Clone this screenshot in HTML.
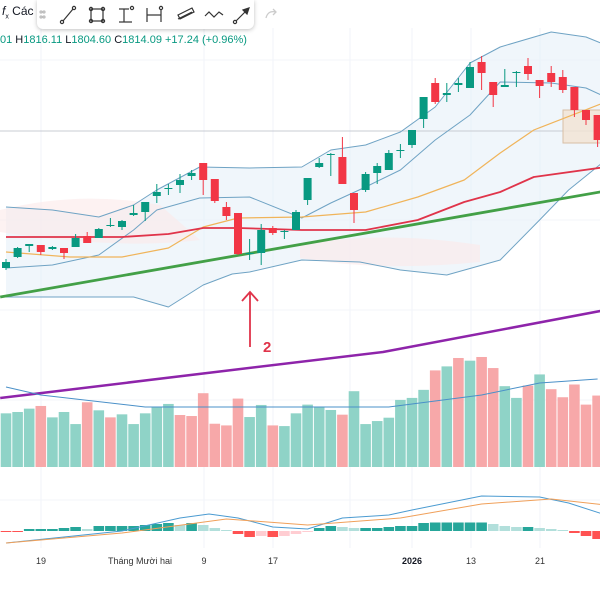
<!DOCTYPE html>
<html><head><meta charset="utf-8"><style>
html,body{margin:0;padding:0;background:#fff;width:600px;height:600px;overflow:hidden;font-family:"Liberation Sans",sans-serif}
#wrap{position:relative;width:600px;height:600px}
svg{position:absolute;left:0;top:0}
.tb{position:absolute;left:37px;top:0;width:217px;height:29px;background:#fff;border-radius:0 0 6px 6px;box-shadow:0 1px 4px rgba(0,0,0,.25)}
.legend{position:absolute;left:0;top:34px;font-size:11px;color:#089981;white-space:nowrap}
.legend b{font-weight:normal;color:#131722}
.fx{position:absolute;left:2px;top:4px;font-size:12px;color:#131722}
.xl{position:absolute;top:556px;font-size:9px;color:#333;transform:translateX(-50%)}
</style></head><body>
<div id="wrap">
<svg id="chart" width="600" height="600"></svg>
<div class="fx"><i>f</i><sub style="font-size:7px">x</sub> Các</div>
<div class="tb">
<svg width="217" height="29">
<g fill="none" stroke="#333" stroke-width="1.2">
<circle cx="4" cy="12" r="1" stroke="#bbb"/><circle cx="7" cy="12" r="1" stroke="#bbb"/><circle cx="4" cy="17" r="1" stroke="#bbb"/><circle cx="7" cy="17" r="1" stroke="#bbb"/>
<g><line x1="26" y1="21" x2="36" y2="9"/><circle cx="25" cy="22" r="1.6"/><circle cx="37" cy="8" r="1.6"/></g>
<g><rect x="54" y="9" width="12" height="12"/><circle cx="54" cy="9" r="1.6"/><circle cx="66" cy="9" r="1.6"/><circle cx="54" cy="21" r="1.6"/><circle cx="66" cy="21" r="1.6"/></g>
<g><line x1="82" y1="9" x2="92" y2="9"/><line x1="82" y1="22" x2="95" y2="22"/><line x1="87" y1="9" x2="87" y2="22"/><circle cx="95" cy="8" r="1.6"/></g>
<g><line x1="110" y1="8" x2="110" y2="22"/><line x1="124" y1="10" x2="124" y2="22"/><line x1="110" y1="15" x2="124" y2="15"/><circle cx="124" cy="8" r="1.6"/></g>
<g><path d="M141 15 L155 8 L157 12 L143 19Z M141 19 L155 12"/></g>
<g><path d="M168 16 L172 12 L177 17 L182 12 L186 15"/></g>
<g><line x1="199" y1="21" x2="211" y2="9"/><circle cx="198" cy="22" r="1.6"/><path d="M206 10 L212 8 L210 14Z" fill="#333"/></g>
</g></svg></div>
<svg width="20" height="20" style="left:262px;top:4px"><path d="M4 14 Q6 6 14 8 M11 5 L14 8 L11 11" fill="none" stroke="#ccc" stroke-width="1.3"/></svg>
<div class="legend">01 <b>H</b>1816.11 <b>L</b>1804.60 <b>C</b>1814.09 +17.24 (+0.96%)</div>
<div class="xl" style="left:41px">19</div>
<div class="xl" style="left:140px">Tháng Mười hai</div>
<div class="xl" style="left:204px">9</div>
<div class="xl" style="left:273px">17</div>
<div class="xl" style="left:412px;font-weight:bold;color:#131722">2026</div>
<div class="xl" style="left:471px">13</div>
<div class="xl" style="left:540px">21</div>
</div>
<script>
const opens=[1686,1697,1708,1709,1705,1706,1707,1718,1716,1728,1727,1739,1742,1758,1765,1769,1778,1791,1775,1747,1741,1700,1701,1726,1722,1724,1754,1787,1799,1797,1761,1764,1781,1784,1803,1809,1835,1871,1859,1869,1866,1892,1872,1867,1881,1888,1874,1881,1877,1867,1844,1839];
const highs=[1695,1707,1710,1709,1708,1706,1720,1722,1726,1736,1734,1749,1752,1770,1770,1780,1784,1791,1775,1752,1741,1715,1730,1728,1724,1744,1776,1796,1801,1817,1761,1782,1791,1804,1810,1824,1857,1876,1871,1876,1892,1898,1872,1885,1883,1896,1874,1888,1884,1867,1844,1839];
const lows=[1684,1696,1702,1699,1704,1695,1707,1711,1716,1727,1724,1738,1733,1751,1759,1761,1774,1759,1751,1734,1699,1694,1689,1719,1715,1724,1749,1786,1778,1770,1731,1762,1770,1784,1796,1806,1826,1850,1852,1862,1866,1864,1847,1867,1867,1874,1856,1867,1861,1837,1829,1807];
const closes=[1692,1706,1710,1702,1707,1701,1716,1711,1725,1729,1733,1741,1752,1762,1766,1774,1781,1774,1753,1738,1700,1701,1724,1721,1723,1742,1776,1791,1800,1770,1744,1780,1788,1801,1804,1824,1857,1852,1861,1871,1887,1881,1859,1869,1882,1880,1868,1872,1864,1844,1834,1814];
const volumes=[160,164,174,182,148,164,128,193,169,148,157,128,160,178,188,155,152,220,129,124,204,149,185,124,122,160,186,180,170,156,226,128,137,147,200,206,230,288,300,325,317,328,295,241,206,243,276,232,208,246,186,213];
const volUp=[1,1,1,0,1,1,1,0,1,0,1,1,1,1,1,0,0,0,0,0,0,1,1,0,1,1,1,1,1,0,1,1,1,1,1,1,1,0,1,0,1,0,0,1,1,0,1,0,0,0,0,0];
const volMaIdx=[0,3,12,24,33,37,41,46,51];
const volMa=[80,72,60,60,60,66,72,84,88];
const macdHist=[-0.5,-0.5,2,2,2,3,4,2,5,5,5,5,6,7,8,6,8,6,3,1,-3,-6,-5,-6,-5,-3,-1,3,5,4,3,3,3,4,5,5,8,8.5,8.5,8.5,8.5,8.5,7,5,4,4,3,2,1,-2,-5,-8];
const macdIdx=[0,10,15,17.5,20,23,26,29,33,35,38,41,46,48.5,51.7];
const macdLine=[-12,0,13,17,13,4,2,13,16,21,28,35,34,28,16];
const sigIdx=[0,10,19,26,34,41,47,51.7];
const sigLine=[-12,-2,12,6,13,27,32,26];
const bandIdx=[0,4,8,11,13,16.7,21,25.5,28,31,34,37,40,42.6,47,50,51.7];
const upperBand=[1747,1744,1737,1749,1764,1787,1786,1787,1804,1809,1822,1847,1891,1907,1922,1917,1909];
const lowerBand=[1686,1689,1699,1724,1744,1756,1757,1736,1751,1767,1784,1814,1839,1872,1871,1866,1857];
const outerIdx=[0,5,11,14,17,19.5,21,25.5,30.5,34,38,42.6,46,48.5,51.7];
const outerLower=[1657,1657,1657,1647,1669,1680,1682,1694,1692,1684,1679,1694,1734,1764,1794];
const maIdx=[0,5.5,10,14,17,20,25.5,31,35.5,39.5,42.6,45.5,51.7];
const basisMa=[1702,1697,1697,1706,1727,1736,1737,1742,1757,1774,1801,1824,1852];
const redMa=[1717,1717,1717,1720,1726,1726,1724,1724,1734,1752,1762,1777,1787];
const trendIdx=[-0.5,51.7];
const trendLine=[1657,1763];
const purpleIdx=[-0.5,19.5,32.5,51.7];
const purpleVal=[-16,12,30,72];

const S='http://www.w3.org/2000/svg';
const svg=document.getElementById('chart');
function X(i){return 6+i*11.6;}
function Y(p){return 1954-p;}
function VY(v){return 467-v*0.3354;}
function MY(m){return 531-m;}
function PY(v){return 382-v;}
function mk(t,a,parent){const e=document.createElementNS(S,t);for(const k in a)e.setAttribute(k,a[k]);(parent||svg).appendChild(e);return e;}
function pts(idx,vals,fy){return idx.map((i,k)=>X(i).toFixed(1)+','+fy(vals[k]).toFixed(1)).join(' ');}

[41,204,273,350,412,471,540].forEach(x=>{const g=mk('line',{x1:x,y1:28,x2:x,y2:548,stroke:'#f0f3fa','stroke-width':1});

});
[60,131,220,310,400,500].forEach(y=>{const g=mk('line',{x1:0,y1:y,x2:600,y2:y,stroke:'#f3f5fa','stroke-width':1});

});

const fillPts=pts(bandIdx,upperBand,Y)+' '+outerIdx.slice().reverse().map((i,k)=>X(i).toFixed(1)+','+Y(outerLower[outerIdx.length-1-k]).toFixed(1)).join(' ');
const bf=mk('polygon',{points:fillPts,fill:'#e3eff8','fill-opacity':0.55});


const cloud=mk('path',{d:'M0 210 Q80 190 160 205 L200 240 Q120 250 0 232Z M300 245 Q380 230 480 245 L480 262 Q380 272 300 258Z',fill:'#fbe9ea','fill-opacity':0.6});



const hl=mk('line',{x1:0,y1:131,x2:600,y2:131,stroke:'#c9ccd3','stroke-width':1});


const box=mk('rect',{x:563,y:110,width:40,height:33,fill:'#f2e3d3','fill-opacity':0.8,stroke:'#d8bfa6','stroke-width':1});



function line(idx,vals,fy,col,w,name){const l=mk('polyline',{points:pts(idx,vals,fy),fill:'none',stroke:col,'stroke-width':w,'stroke-linejoin':'round'});

return l;}
line(outerIdx,outerLower,Y,'#6fa3c4',1,'outer-lower-band');
line(bandIdx,upperBand,Y,'#6fa3c4',1,'upper-band');
line(bandIdx,lowerBand,Y,'#6fa3c4',1,'lower-band');
line(maIdx,basisMa,Y,'#f0b45a',1.2,'basis-ma');
line(maIdx,redMa,Y,'#e0344a',1.8,'red-ma');
line(trendIdx,trendLine,Y,'#43a047',2.8,'trend-line');
line(purpleIdx,purpleVal,PY,'#8e24aa',2.5,'purple-ma');

for(let i=0;i<opens.length;i++){
 const up=closes[i]>=opens[i];const col=up?'#089981':'#f23645';
 const x=X(i);
 const w=mk('line',{x1:x,y1:Y(highs[i]),x2:x,y2:Y(lows[i]),stroke:col,'stroke-width':1});
 
 
 const top=Y(Math.max(opens[i],closes[i])),bot=Y(Math.min(opens[i],closes[i]));
 const b=mk('rect',{x:x-4,y:top,width:8,height:Math.max(1,bot-top),fill:col});
 
 
}

for(let i=0;i<volumes.length;i++){
 const r=mk('rect',{x:X(i)-5.3,y:VY(volumes[i]),width:10.6,height:467-VY(volumes[i]),fill:volUp[i]?'#8fd3c7':'#f7a8a9'});
 
 
}
line(volMaIdx,volMa,v=>467-v,'#4a90c8',1,'volume-ma');

const ar=mk('path',{d:'M250 347 L250 292 M242 301 L250 292 L258 301',fill:'none',stroke:'#e0344a','stroke-width':1.8});


const at=mk('text',{x:263,y:352,fill:'#e0344a','font-size':15,'font-weight':'bold','font-family':'Liberation Sans, sans-serif'});
at.textContent='2';



for(let i=0;i<macdHist.length;i++){
 const v=macdHist[i];let col;
 const prev=i>0?macdHist[i-1]:v;
 if(v>=0)col=(v>=prev)?'#26a69a':'#b2dfdb';else col=(v<=prev)?'#ff5252':'#ffcdd2';
 const y=v>=0?MY(v):MY(0);
 const r=mk('rect',{x:X(i)-5.3,y:y,width:10.6,height:Math.max(1,Math.abs(v)),fill:col});
 
 
}
line(macdIdx,macdLine,MY,'#4b9bd1',1,'macd-line');
line(sigIdx,sigLine,MY,'#f0a05a',1,'signal-line');
</script>
</body></html>
